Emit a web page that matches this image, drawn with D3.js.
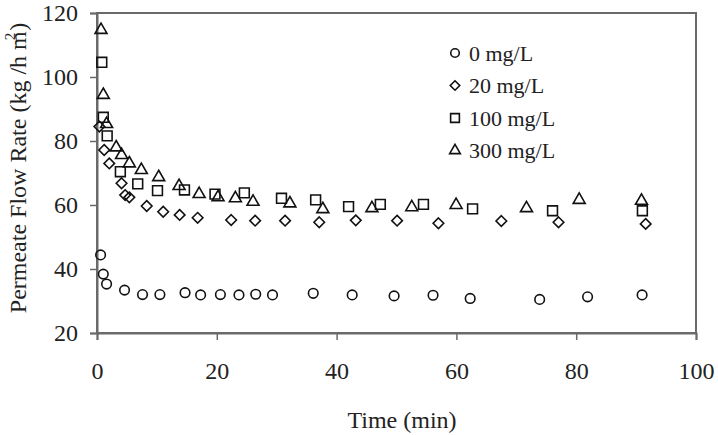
<!DOCTYPE html>
<html>
<head>
<meta charset="utf-8">
<script src="https://cdn.jsdelivr.net/npm/d3@7"></script>
<style>
	body { margin: 0; background: #fff; }
	svg text { font-family: "Liberation Serif", "Times New Roman", Times, serif; fill: #222; }
</style>
</head>
<body>
<div id="chart"></div>
<script>
// values
var t0 = [0.6, 1.05, 1.6, 4.6, 7.6, 10.5, 14.7, 17.3, 20.6, 23.7, 26.5, 29.3, 36.1, 42.6, 49.6, 56.1, 62.3, 73.9, 81.9, 91];
var v0 = [44.4, 38.4, 35.3, 33.4, 32.0, 32.0, 32.6, 31.9, 32.0, 31.9, 32.1, 31.9, 32.4, 31.9, 31.6, 31.8, 30.8, 30.5, 31.3, 31.9];

var t20 = [0.4, 1.2, 2.05, 4.1, 4.7, 5.4, 8.3, 11.05, 13.8, 16.8, 22.4, 26.4, 31.4, 37.1, 43.2, 50.1, 57, 67.5, 77.05, 91.6];
var v20 = [84.5, 77.2, 73.0, 66.8, 63.1, 62.4, 59.7, 57.9, 56.9, 56.0, 55.3, 55.1, 55.1, 54.6, 55.2, 55.1, 54.3, 55.0, 54.6, 54.1];

var t100 = [0.8, 1.05, 1.7, 3.9, 6.8, 10.1, 14.6, 19.7, 24.6, 30.8, 36.5, 42, 47.3, 54.5, 62.7, 76.05, 91.05];
var v100 = [104.6, 87.4, 81.6, 70.4, 66.6, 64.5, 64.7, 63.4, 63.8, 62.1, 61.6, 59.5, 60.2, 60.2, 58.8, 58.2, 58.2];

var t300 = [0.67, 1.05, 1.6, 3.2, 4.1, 5.4, 7.4, 10.3, 13.7, 17.05, 20.2, 23.1, 26.05, 32.2, 37.7, 45.9, 52.55, 59.95, 71.7, 80.5, 90.9];
var v300 = [114.7, 94.4, 85.3, 78.0, 75.6, 73.0, 70.9, 68.7, 65.9, 63.4, 62.4, 62.1, 61.0, 60.5, 58.7, 59.0, 59.3, 60.0, 59.0, 61.6, 61.3];

var seriesNames = ["0 mg/L", "20 mg/L", "100 mg/L", "300 mg/L"];
var xTicks = [0, 20, 40, 60, 80, 100];
var yTicks = [20, 40, 60, 80, 100, 120];

var width = 718, height = 435;
var margin = {top: 13, right: 22, bottom: 102, left: 97};
var serif = "'Liberation Serif', 'Times New Roman', Times, serif";

var svg = d3.select("#chart")
	.append("svg")
	.attr("width", width)
	.attr("height", height)
	.style("font-family", serif);

var x = d3.scaleLinear().domain([0, 100]).range([margin.left, width - margin.right]);
var y = d3.scaleLinear().domain([20, 120]).range([height - margin.bottom, margin.top]);

var lineCol = "#6a6a6a";

// frame
svg.append("rect")
	.attr("x", x(0))
	.attr("y", y(120))
	.attr("width", x(100) - x(0))
	.attr("height", y(20) - y(120))
	.attr("fill", "none")
	.attr("stroke", lineCol)
	.attr("stroke-width", 2);

var xAxis = svg.append("g")
	.attr("transform", "translate(0," + y(20) + ")")
	.call(d3.axisBottom(x).tickValues(xTicks).tickSize(7).tickPadding(22));
var yAxis = svg.append("g")
	.attr("transform", "translate(" + x(0) + ",0)")
	.call(d3.axisLeft(y).tickValues(yTicks).tickSize(7).tickPadding(12));

[xAxis, yAxis].forEach(function(g) {
	g.attr("font-family", serif).attr("font-size", 24);
	g.select(".domain").attr("stroke", lineCol).attr("stroke-width", 2);
	g.selectAll(".tick line").attr("stroke", lineCol).attr("stroke-width", 1.5);
	g.selectAll(".tick text").attr("fill", "#222");
});

// axis titles
svg.append("text")
	.attr("x", 402)
	.attr("y", 428)
	.attr("text-anchor", "middle")
	.attr("font-size", 24)
	.text("Time (min)");

var ylab = svg.append("text")
	.attr("transform", "translate(26,168) rotate(-90)")
	.attr("text-anchor", "middle")
	.attr("font-size", 24);
ylab.append("tspan").text("Permeate Flow Rate (kg /h m");
ylab.append("tspan").attr("dy", -11).attr("dx", -9).attr("font-size", 15).text("2");
ylab.append("tspan").attr("dy", 11).attr("dx", 2).text(")");

// marker shapes
var diamond = {
	draw: function(ctx, size) {
		var r = Math.sqrt(size / 2);
		ctx.moveTo(0, -r);
		ctx.lineTo(r, 0);
		ctx.lineTo(0, r);
		ctx.lineTo(-r, 0);
		ctx.closePath();
	}
};
var shapes = [d3.symbolCircle, diamond, d3.symbolSquare, d3.symbolTriangle];
var sizes = [72, 56, 96, 62];
var series = [
	{t: t0, v: v0},
	{t: t20, v: v20},
	{t: t100, v: v100},
	{t: t300, v: v300}
];

series.forEach(function(s, k) {
	var pts = s.t.map(function(d, i) { return [d, s.v[i]]; });
	var sym = d3.symbol().type(shapes[k]).size(sizes[k]);
	svg.append("g").selectAll("path")
		.data(pts)
		.enter()
		.append("path")
		.attr("d", sym)
		.attr("transform", function(d) {
			return "translate(" + x(d[0]) + "," + y(d[1]) + ")";
		})
		.attr("fill", "none")
		.attr("stroke", "#111")
		.attr("stroke-width", 1.6);
});

// legend
var lg = svg.append("g").attr("transform", "translate(455,53)");
seriesNames.forEach(function(name, k) {
	var row = lg.append("g").attr("transform", "translate(0," + (k * 32.5) + ")");
	row.append("path")
		.attr("d", d3.symbol().type(shapes[k]).size(sizes[k] * 0.8))
		.attr("fill", "none")
		.attr("stroke", "#111")
		.attr("stroke-width", 1.6);
	row.append("text")
		.attr("x", 14)
		.attr("dy", "0.35em")
		.attr("font-size", 22)
		.text(name);
});
</script>
</body>
</html>
